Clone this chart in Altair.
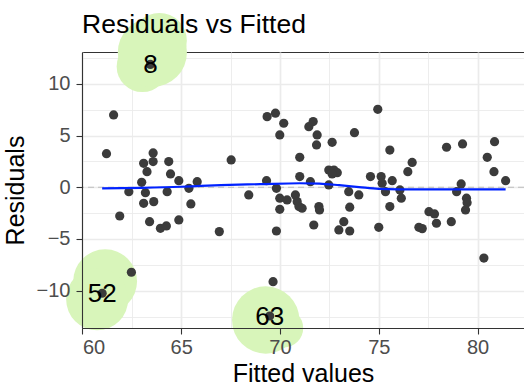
import altair as alt
import pandas as pd

# ---- data ----
fitted = [61.58, 61.22, 63.58, 63.58, 63.10, 63.27, 64.37, 64.46, 64.88, 65.81,
          65.39, 63.00, 62.35, 63.19, 64.29, 63.10, 63.61, 65.49, 61.89, 63.40,
          63.95, 64.25, 64.88, 66.93, 67.53, 71.00, 69.32, 69.82, 68.42, 69.99,
          70.36, 70.78, 70.87, 70.96, 71.12, 69.99, 71.00, 71.54, 71.97, 72.00,
          71.71, 69.82, 72.47, 72.73, 72.90, 72.64, 72.47, 73.48, 73.99, 73.53,
          73.23, 72.98, 73.53, 69.35, 69.77, 70.19, 69.99, 71.46, 71.68, 71.88,
          71.85, 72.64, 73.77, 74.95, 75.56, 76.69, 76.47, 78.43, 79.24, 80.86,
          80.49, 80.83, 81.42, 74.58, 75.12, 75.17, 75.68, 75.34, 76.07, 76.14,
          75.56, 75.00, 77.54, 77.82, 77.92, 77.03, 77.20, 78.67, 79.17, 78.94,
          79.44, 79.47, 79.39, 80.32, 62.48, 69.65]
resid = [6.99, 3.25, 3.32, 2.48, 2.32, 1.51, 2.48, 1.29, 0.64, 0.54,
         -0.10, 0.48, -0.43, -0.52, -0.43, -1.55, -1.39, -1.61, -2.78, -3.33,
         -3.97, -3.74, -3.16, -4.29, 2.64, 2.90, 0.64, -0.10, -0.74, -1.06,
         -1.23, -0.74, -1.39, -1.87, -2.03, -2.13, 1.03, 0.54, -1.87, -2.20,
         -3.65, -4.23, 1.67, 1.67, 1.41, 1.29, 0.22, -0.43, -0.74, -1.93,
         -3.33, -4.13, -4.23, 6.83, 7.16, 6.19, 5.06, 5.86, 6.35, 5.06,
         4.09, 4.35, 5.28, 7.54, 3.60, 2.40, 1.51, 3.87, 4.19, 4.41,
         2.90, 1.51, 0.64, 1.03, 1.03, 0.39, 0.64, -0.43, -0.26, -1.06,
         -1.87, -3.87, -2.36, -2.58, -3.48, -3.87, -4.00, -3.33, 0.32, -0.43,
         -1.06, -1.49, -2.20, -6.85, -8.22, -9.13]

out_label = ["8", "52", "63"]
out_fitted = [63.44, 61.00, 69.48]
out_resid = [11.88, -10.25, -12.45]

smooth_x = [61.0, 63.0, 65.0, 66.0, 67.0, 69.0, 71.0, 72.0, 73.0, 74.0, 75.0, 77.0, 79.0, 81.42]
smooth_y = [-0.10, -0.05, 0.05, 0.13, 0.20, 0.30, 0.39, 0.35, 0.20, 0.02, -0.15, -0.20, -0.20, -0.20]

x_major = [60, 65, 70, 75, 80]
x_minor = [62.5, 67.5, 72.5, 77.5]
y_major = [-10, -5, 0, 5, 10]
y_minor = [-12.5, -7.5, -2.5, 2.5, 7.5, 12.5]
x_domain = [59.98, 82.35]
y_domain = [-13.61, 13.08]

# ---- tables ----
pts = pd.DataFrame({"x": fitted + out_fitted, "y": resid + out_resid})
outl = pd.DataFrame({"label": out_label, "x": out_fitted, "y": out_resid})
smooth = pd.DataFrame({"x": smooth_x, "y": smooth_y})
zero = pd.DataFrame({"y": [0]})

FONT = "Liberation Sans"
xs = alt.Scale(domain=x_domain, nice=False, zero=False)
ys = alt.Scale(domain=y_domain, nice=False, zero=False)


def X(axis=None, field="x:Q"):
    return alt.X(field, scale=xs, axis=axis)


def Y(axis=None, field="y:Q"):
    return alt.Y(field, scale=ys, axis=axis)


def grid_axis(values, orient, width):
    return alt.Axis(values=values, grid=True, gridColor="#EBEBEB", gridWidth=width,
                    labels=False, ticks=False, domain=False, title=None, orient=orient)


minor_layer = alt.Chart(pts).mark_point(opacity=0).encode(
    x=X(grid_axis(x_minor, "bottom", 0.9)), y=Y(grid_axis(y_minor, "left", 0.9)))
major_layer = alt.Chart(pts).mark_point(opacity=0).encode(
    x=X(grid_axis(x_major, "bottom", 1.7)), y=Y(grid_axis(y_major, "left", 1.7)))

# blob lobes around the labelled outliers (pixel offsets, radius) -- styling only
lobes = {
    "8": [(9, -24, 31), (-8, 2, 29), (2, -12, 39)],
    "52": [(3, -12, 36), (-5, 6, 35)],
    "63": [(-4, 4, 38), (14, 12, 22)],
}
BLOB = "#D8F5BA"
blob_layers = []
for lab, parts in lobes.items():
    for dx, dy, r in parts:
        blob_layers.append(
            alt.Chart(outl).transform_filter(alt.datum.label == lab)
            .mark_circle(color=BLOB, opacity=1, size=3.14159 * r * r, xOffset=dx, yOffset=dy)
            .encode(x=X(), y=Y())
        )

zero_line = alt.Chart(zero).mark_rule(color="#BDBDBD", strokeDash=[6, 4], strokeWidth=1).encode(y=Y())

points = alt.Chart(pts).mark_circle(color="#3B3B3B", opacity=1, size=85).encode(x=X(), y=Y())

line = alt.Chart(smooth).mark_line(color="#0022FF", strokeWidth=2.2, interpolate="monotone").encode(x=X(), y=Y())

labels = alt.Chart(outl).mark_text(font=FONT, fontSize=26, color="black", align="center",
                                   baseline="middle", dy=1).encode(x=X(), y=Y(), text="label:N")

main_x = alt.Axis(values=x_major, grid=False, title="Fitted values", orient="bottom", zindex=1,
                  tickSize=6, labelPadding=3, titlePadding=4)
main_y = alt.Axis(values=y_major, grid=False, title="Residuals", orient="left", zindex=1,
                  tickSize=6, labelPadding=6, titlePadding=8)
axis_layer = alt.Chart(pts).mark_point(opacity=0).encode(x=X(main_x), y=Y(main_y))

chart = alt.layer(
    minor_layer, major_layer, *blob_layers, zero_line, points, line, labels, axis_layer
).resolve_axis(x="independent", y="independent").properties(
    width=442, height=276,
    autosize=alt.AutoSizeParams(type="none"),
    padding={"left": 82, "top": 52, "right": 0, "bottom": 59},
    title=alt.TitleParams("Residuals vs Fitted", anchor="start", frame="group", font=FONT,
                          fontSize=26.5, fontWeight="normal", color="black",
                          baseline="alphabetic", offset=-47, zindex=1),
).configure_view(stroke="#333333", strokeWidth=1).configure_axis(
    labelFont=FONT, labelFontSize=20, labelColor="#4D4D4D",
    titleFont=FONT, titleFontSize=25, titleColor="black", titleFontWeight="normal",
    tickColor="#333333", domainColor="#333333", domainWidth=1.1, tickWidth=1.1,
)

chart.save("out.html", embed_options={"renderer": "svg", "actions": False})
